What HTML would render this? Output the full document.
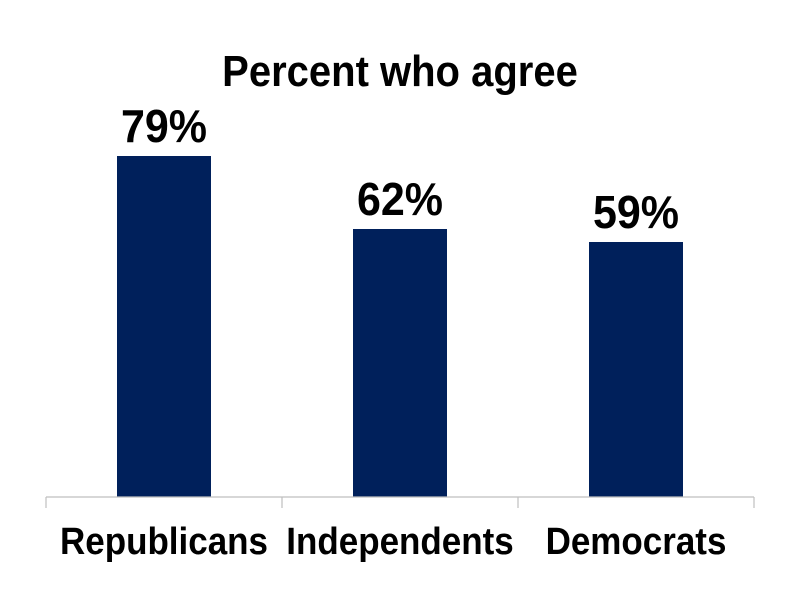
<!DOCTYPE html>
<html><head><style>
body{margin:0;background:#fff;}
svg text{font-family:"Liberation Sans",Arial,sans-serif;font-weight:bold;fill:#000;}
</style></head><body>
<svg width="800" height="600" viewBox="0 0 800 600" xmlns="http://www.w3.org/2000/svg">
<rect width="800" height="600" fill="#fff"/>
<text x="400" y="86" font-size="40" text-anchor="middle" transform="translate(0,86) scale(1,1.08) translate(0,-86)">Percent who agree</text>
<rect x="117" y="156" width="94" height="341" fill="#00205b"/>
<rect x="353" y="229" width="94" height="268" fill="#00205b"/>
<rect x="589" y="242" width="94" height="255" fill="#00205b"/>
<text x="164" y="142" font-size="43" text-anchor="middle" transform="translate(0,142) scale(1,1.08) translate(0,-142)">79%</text>
<text x="400" y="215" font-size="43" text-anchor="middle" transform="translate(0,215) scale(1,1.08) translate(0,-215)">62%</text>
<text x="636" y="228" font-size="43" text-anchor="middle" transform="translate(0,228) scale(1,1.08) translate(0,-228)">59%</text>
<g stroke="#bfbfbf" stroke-width="1.2">
<line x1="46" y1="497" x2="754" y2="497"/>
<line x1="46" y1="497" x2="46" y2="508"/>
<line x1="282" y1="497" x2="282" y2="508"/>
<line x1="518" y1="497" x2="518" y2="508"/>
<line x1="754" y1="497" x2="754" y2="508"/>
</g>
<text x="164" y="554" font-size="35" text-anchor="middle" transform="translate(0,554) scale(1,1.08) translate(0,-554)">Republicans</text>
<text x="400" y="554" font-size="35" text-anchor="middle" transform="translate(0,554) scale(1,1.08) translate(0,-554)">Independents</text>
<text x="636" y="554" font-size="35" text-anchor="middle" transform="translate(0,554) scale(1,1.08) translate(0,-554)">Democrats</text>
</svg>
</body></html>
